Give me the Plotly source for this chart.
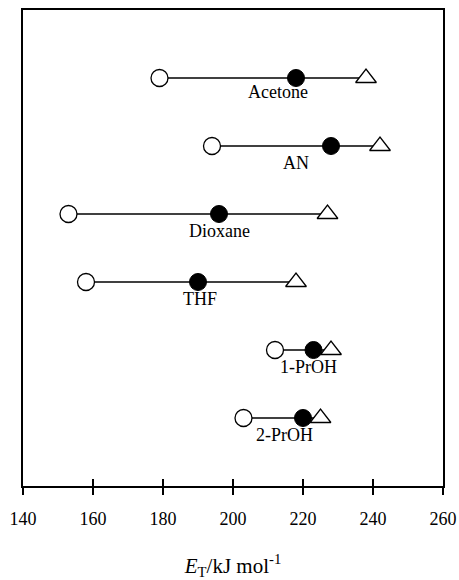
import plotly.graph_objects as go

solvents = ["Acetone", "AN", "Dioxane", "THF", "1-PrOH", "2-PrOH"]
open_circle = [179, 194, 153, 158, 212, 203]
filled_circle = [218, 228, 196, 190, 223, 220]
triangle = [238, 242, 227, 218, 228, 225]
x_ticks = [140, 160, 180, 200, 220, 240, 260]

n = len(solvents)
ypos = [n - 1 - i for i in range(n)]
label_xshift = [-18, -35, 0, 2, -5, -19]
label_yshift = [-14, -17, -17, -17, -17, -17]

FONT = "Liberation Serif, Times New Roman, serif"
fig = go.Figure()
for i in range(n):
    fig.add_trace(go.Scatter(x=[open_circle[i], triangle[i]], y=[ypos[i], ypos[i]], mode="lines",
                             line=dict(color="black", width=1.5), showlegend=False, hoverinfo="skip"))
fig.add_trace(go.Scatter(x=open_circle, y=ypos, mode="markers", showlegend=False,
                         marker=dict(symbol="circle", size=17, color="white", line=dict(color="black", width=1.3))))
fig.add_trace(go.Scatter(x=filled_circle, y=ypos, mode="markers", showlegend=False,
                         marker=dict(symbol="circle", size=17, color="black", line=dict(color="black", width=1))))
fig.add_trace(go.Scatter(x=triangle, y=ypos, mode="markers", showlegend=False,
                         marker=dict(symbol="triangle-up", size=18, color="white", line=dict(color="black", width=1.3))))
fig.add_trace(go.Scatter(x=[150], y=[None], xaxis="x2", showlegend=False, hoverinfo="skip", mode="markers"))

for i in range(n):
    fig.add_annotation(x=filled_circle[i], y=ypos[i], text=solvents[i], showarrow=False,
                       xshift=label_xshift[i], yshift=label_yshift[i],
                       font=dict(family=FONT, size=18, color="black"))

fig.update_layout(
    width=459, height=580, margin=dict(l=23, r=16, t=10, b=94),
    plot_bgcolor="white", paper_bgcolor="white",
    xaxis=dict(range=[140, 260], tickvals=x_ticks, ticks="outside", ticklen=7, tickwidth=1.5,
               tickcolor="black", showgrid=False, zeroline=False, showline=True, linecolor="black",
               linewidth=2, mirror=True, ticklabelstandoff=8, automargin=False,
               tickfont=dict(family=FONT, size=18, color="black"),
               title=dict(text="<i>E</i><sub>T</sub>/kJ mol<sup>-1</sup>", standoff=39,
                          font=dict(family=FONT, size=21, color="black"))),
    xaxis2=dict(range=[140, 260], tickvals=x_ticks, ticks="inside", ticklen=7, tickwidth=1.5,
                tickcolor="black", showticklabels=False, showgrid=False, zeroline=False,
                overlaying="x", side="bottom", anchor="y", automargin=False),
    yaxis=dict(range=[-1, n], showticklabels=False, ticks="", showgrid=False, zeroline=False,
               showline=True, linecolor="black", linewidth=2, mirror=True, automargin=False),
)
fig.write_html("out.html")
